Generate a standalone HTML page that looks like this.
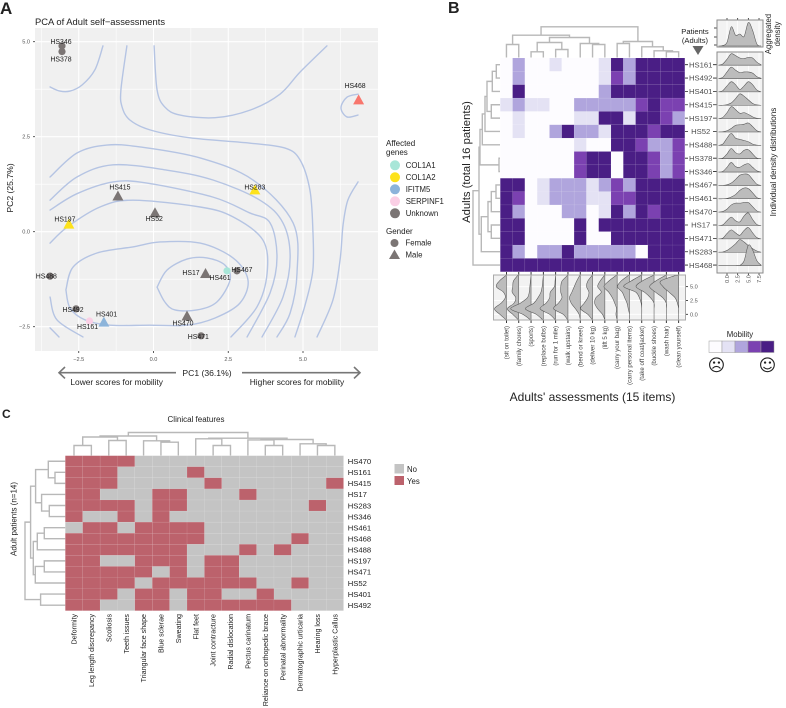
<!DOCTYPE html>
<html lang="en">
<head>
<meta charset="utf-8">
<title>Adult self-assessments figure</title>
<style>
html,body{margin:0;padding:0;background:#fff;width:786px;height:708px;overflow:hidden}
svg{display:block;font-family:"Liberation Sans",sans-serif}
text{fill:#222}
</style>
</head>
<body>
<svg id="fig" width="786" height="708" viewBox="0 0 786 708">
<defs><clipPath id="colclip"><rect x="493" y="275" width="193" height="45"/></clipPath></defs>
<text x="0" y="14" font-size="17" font-weight="bold" fill="#000">A</text>
<text x="448" y="13" font-size="16" font-weight="bold" fill="#000">B</text>
<text x="2" y="418" font-size="12" font-weight="bold" fill="#000">C</text>

<g id="a">
<text x="35" y="25" font-size="9.4">PCA of Adult self−assessments</text>
<rect x="35" y="28" width="343" height="323" fill="#f0f0f0"/>
<g id="a-grid"></g><g id="a-contours"></g><g id="a-points"></g><g id="a-labels"></g>
<text x="13" y="188" font-size="8.6" text-anchor="middle" transform="rotate(-90 13 188)">PC2 (25.7%)</text>
<text x="207" y="376" font-size="8.6" text-anchor="middle">PC1 (36.1%)</text>
<path d="M176 372.700H59M65 367l-6 5.700l6 5.700" fill="none" stroke="#777" stroke-width="1.600"/>
<path d="M242 372.700H360M354 367l6 5.700l-6 5.700" fill="none" stroke="#777" stroke-width="1.600"/>
<text x="116.700" y="385" font-size="8.400" text-anchor="middle">Lower scores for mobility</text>
<text x="297" y="385" font-size="8.400" text-anchor="middle">Higher scores for mobility</text>
<text x="386" y="146" font-size="8">Affected</text>
<text x="386" y="155" font-size="8">genes</text>
<g id="a-legend"></g>
<text x="386" y="234" font-size="8">Gender</text>
<circle cx="394.500" cy="243" r="4" fill="#7b7574"/>
<path d="M394.500 249.500l5.500 9.500h-11z" fill="#7b7574"/>
<text x="405.500" y="245.700" font-size="7.800">Female</text>
<text x="405.500" y="257.700" font-size="7.800">Male</text>
</g>

<g id="b">
<g id="b-top-dendro"></g><g id="b-left-dendro"></g><g id="b-heat"></g><g id="b-rows"></g>
<rect x="717" y="52" width="46" height="221" fill="#f2f2f2"/>
<rect x="717" y="20" width="46" height="27" fill="#f2f2f2"/>
<rect x="493.500" y="275" width="192" height="45" fill="#f2f2f2"/>
<g id="b-ridgegrid"></g><g id="b-ridges"></g><g id="b-agg"></g><g id="b-cols" clip-path="url(#colclip)"></g><g id="b-axes"></g>
<rect x="717" y="52" width="46" height="221" fill="none" stroke="#8a8a8a" stroke-width="1"/>
<rect x="717" y="20" width="46" height="27" fill="none" stroke="#8a8a8a" stroke-width="1"/>
<rect x="493.500" y="275" width="192" height="45" fill="none" stroke="#aaa" stroke-width="1"/>
<text x="695" y="34" font-size="7.600" text-anchor="middle">Patients</text>
<text x="695" y="43" font-size="7.600" text-anchor="middle">(Adults)</text>
<path d="M692.500 46h11l-5.500 9z" fill="#666"/>
<text x="771" y="34" font-size="7.800" text-anchor="middle" transform="rotate(-90 771 34)">Aggregated</text>
<text x="780" y="34" font-size="7.800" text-anchor="middle" transform="rotate(-90 780 34)">density</text>
<text x="776" y="162" font-size="8.200" text-anchor="middle" transform="rotate(-90 776 162)">Individual density distributions</text>
<text x="470" y="162" font-size="11.300" text-anchor="middle" transform="rotate(-90 470 162)">Adults (total 16 patients)</text>
<text x="592.500" y="401" font-size="12" text-anchor="middle">Adults' assessments (15 items)</text>
<text x="740" y="337" font-size="7.800" text-anchor="middle">Mobility</text>
<g id="b-legend"></g>
<text x="716.500" y="371" font-size="17" text-anchor="middle" style="font-family:'DejaVu Sans',sans-serif">☹</text>
<text x="767.500" y="371" font-size="17" text-anchor="middle" style="font-family:'DejaVu Sans',sans-serif">☺</text>
</g>

<g id="c">
<text x="196" y="422" font-size="8" text-anchor="middle">Clinical features</text>
<text x="16.500" y="519" font-size="8" text-anchor="middle" transform="rotate(-90 16.500 519)">Adult patients (n=14)</text>
<g id="c-top-dendro"></g><g id="c-left-dendro"></g><g id="c-heat"></g><g id="c-rows"></g><g id="c-cols"></g>
<rect x="394.500" y="464" width="9.500" height="9.500" fill="#c4c4c4"/>
<rect x="394.500" y="476" width="9.500" height="9" fill="#bc626c"/>
<text x="407" y="472" font-size="7.800">No</text>
<text x="407" y="484" font-size="7.800">Yes</text>
</g>
</svg>

<script>
/* ---------- Panel A data ---------- */
const pcaPatients = ['HS346','HS378','HS468','HS415','HS283','HS197','HS52','HS488','HS17','HS461','HS467','HS470','HS471','HS492','HS401','HS161'];
const pcaPC1 = [-3.06,-3.06,6.86,-1.19,3.39,-2.83,0.05,-3.46,1.74,2.46,2.79,1.12,1.59,-2.59,-1.66,-2.14];
const pcaPC2 = [4.89,4.74,3.47,0.94,1.10,0.20,0.50,-1.17,-1.10,-1.03,-1.03,-2.22,-2.74,-2.03,-2.38,-2.35];
const pcaGender = ['F','F','M','M','M','M','M','F','M','F','F','M','F','F','M','F'];
const pcaGene = ['Unknown','Unknown','Other','Unknown','COL1A2','COL1A2','Unknown','Unknown','Unknown','COL1A1','Unknown','Unknown','Unknown','Unknown','IFITM5','SERPINF1'];
const geneNames = ['COL1A1','COL1A2','IFITM5','SERPINF1','Unknown'];
const pcaTicksX = [-2.5,0,2.5,5];
const pcaTicksY = [-2.5,0,2.5,5];
const contourTopLeft = [[-3.46,3.81],[-3.13,3.70],[-2.79,3.70],[-2.39,3.86],[-1.96,4.26],[-1.69,4.89]];
const contourTopMiddle = [[0.02,4.89],[0.12,3.73],[0.38,3.28],[0.89,3.07],[2.06,3.00],[3.23,3.20],[4.23,3.62],[4.90,4.20],[5.80,4.89]];
const contourNearHS468 = [[6.84,3.07],[6.47,3.02],[6.27,3.26],[6.47,3.54],[6.84,3.62]];
const contourBroad = [[-0.89,4.89],[-1.09,3.73],[-1.05,3.28],[-0.79,2.94],[-0.12,2.68],[1.22,2.47],[3.23,2.33],[4.40,2.20],[4.90,1.89],[5.23,1.10],[5.33,0.04],[5.33,-1.01],[5.07,-1.93],[4.73,-2.77]];
const contourFarRight = [[6.84,1.31],[6.50,0.83],[6.34,0.18],[6.24,-0.74],[6.00,-1.80],[5.47,-2.77]];
const contourRing1 = [[-3.46,1.44],[-2.56,2.07],[-1.56,2.28],[-0.45,2.23],[1.56,1.94],[3.33,1.36],[4.67,0.23],[4.80,-1.09],[4.57,-2.14],[4.13,-2.77]];
const contourRing2 = [[-3.46,0.83],[-2.56,1.44],[-1.35,1.76],[0.45,1.62],[1.99,1.36],[3.56,0.83],[4.33,0.23],[4.57,-0.67],[4.33,-1.72],[3.63,-2.77]];
const contourRing3 = [[-3.46,0.57],[-2.56,1.00],[-1.35,1.31],[-0.22,1.28],[1.99,0.91],[3.20,0.50],[3.90,0.23],[4.13,-0.67],[3.90,-1.61],[3.13,-2.77]];
const contourRing3Low = [[-3.46,-2.53],[-3.16,-2.77]];
const contourRing4 = [[-3.46,-0.30],[-2.89,0.12],[-1.79,0.65],[-0.69,0.83],[1.56,0.65],[2.66,0.39],[3.66,-0.22],[3.80,-1.09],[3.46,-1.98],[2.59,-2.77]];
const contourRing4Low = [[-3.46,-1.72],[-3.23,-2.32],[-2.36,-2.77]];
const contourRing5 = [[-2.93,-1.53],[-2.69,-0.93],[-1.89,-0.56],[-0.69,-0.40],[0.22,-0.27],[1.56,-0.30],[2.66,-0.69],[3.16,-1.27],[2.89,-1.88],[2.06,-2.27],[1.12,-2.46],[-0.12,-2.46],[-1.45,-2.46],[-2.29,-2.32],[-2.79,-2.01],[-2.93,-1.53]];
const contourInner = [[0.12,-1.46],[0.45,-1.01],[1.12,-0.72],[1.79,-0.69],[2.39,-0.88],[2.56,-1.27],[2.12,-1.85],[1.45,-2.06],[0.72,-2.06],[0.38,-1.85],[0.12,-1.46]];
const contours = [contourTopLeft,contourTopMiddle,contourNearHS468,contourBroad,contourFarRight,contourRing1,contourRing2,contourRing3,contourRing3Low,contourRing4,contourRing4Low,contourRing5,contourInner];

/* ---------- Panel B data ---------- */
const mobilityPatients = ['HS161','HS492','HS401','HS415','HS197','HS52','HS488','HS378','HS346','HS467','HS461','HS470','HS17','HS471','HS283','HS468'];
const mobilityItems = ['(sit on toilet)','(family chores)','(sports)','(replace bulbs)','(run for 1 mile)','(walk upstairs)','(bend or kneel)','(deliver 10 kg)','(lift 5 kg)','(carry your bag)','(carry personal items)','(take off coat/jacket)','(buckle shoes)','(wash hair)','(clean yourself)'];
const mobilityScores = [
[0,2,0,0,1,0,0,0,1,4,2,4,4,4,4],
[0,2,0,0,0,0,0,0,1,3,2,4,4,4,4],
[0,4,0,0,0,0,0,0,2,4,4,4,4,4,4],
[1,2,1,1,0,0,2,2,2,2,2,3,4,3,3],
[0,1,0,0,0,0,1,1,4,4,1,4,4,3,2],
[0,1,0,0,2,4,2,2,1,4,4,4,3,4,4],
[0,0,0,0,0,0,1,0,0,4,4,3,2,2,3],
[0,0,0,0,0,0,3,4,4,0,4,4,3,2,3],
[0,0,0,0,0,0,3,4,4,0,4,4,3,2,3],
[4,4,0,1,2,2,2,1,2,3,2,4,4,4,4],
[4,3,0,1,2,2,2,1,1,3,3,4,4,4,4],
[4,2,0,0,0,2,2,0,1,4,2,4,3,4,4],
[4,4,0,0,0,0,4,0,4,4,4,4,4,4,4],
[4,4,0,0,0,0,4,0,0,4,4,4,4,4,4],
[4,2,0,2,2,4,2,2,2,2,2,0,4,4,4],
[4,4,4,4,4,4,4,4,4,4,4,4,4,4,4]];
const mobilityLevels = [0,1,2,3,4];
const densityGrid = [-2,-1,0,1,2,3,4,5,6,7,8];
const rowDensities = [
[0,.1,.5,.95,.8,.6,.55,.65,.6,.25,.03],
[0,.1,.55,.95,.7,.5,.55,.55,.45,.15,.02],
[0,.1,.5,.85,.6,.2,.5,.85,.6,.15,0],
[0,0,.05,.2,.55,.95,.75,.45,.15,.03,0],
[0,.1,.5,1,.75,.45,.5,.35,.15,.03,0],
[0,.02,.1,.3,.55,.6,.65,.75,.45,.1,0],
[0,.1,.6,1,.6,.5,.4,.3,.1,.02,0],
[0,.05,.4,.85,.5,.4,.7,.75,.4,.05,0],
[0,.05,.4,.8,.45,.4,.6,.7,.4,.1,0],
[0,0,.05,.2,.5,.85,.95,.9,.5,.1,0],
[0,0,.03,.15,.35,.7,.9,.85,.5,.1,0],
[0,.05,.25,.6,.75,.75,.8,.8,.45,.1,0],
[0,.05,.4,.7,.4,.3,.8,1.05,.5,.08,0],
[0,.05,.45,.75,.5,.3,.7,.95,.5,.1,0],
[0,.02,.15,.4,.7,1.05,.85,.55,.3,.1,0],
[0,0,0,0,0,.02,.4,1.7,1.3,.4,.03]];
const aggregateDensity = [0,.02,.15,.8,.45,.5,.4,.98,.65,.08,0];
const densityTicks = [0,2.5,5,7.5];
const columnGrid = [-1,0,1,2,3,4,5,6,7];
const columnDensities = [
[.02,.55,1,.45,.1,.25,.85,.6,.05],
[.03,.5,.95,.4,.25,.55,.5,.45,.1],
[.05,.7,1.7,.9,.3,.15,.1,.05,0],
[.05,.6,1.5,.8,.45,.2,.1,.05,0],
[.03,.5,1.3,.8,.5,.45,.1,.05,0],
[.03,.4,1.2,.8,.5,.6,.6,.5,.05],
[0,.1,.4,.75,.9,.7,.5,.3,.05],
[.02,.4,1,.7,.4,.3,.5,.4,.05],
[0,.2,.6,.85,.75,.3,.6,.4,.05],
[0,.1,.05,.2,.4,.7,1.1,.7,.1],
[0,0,.1,.2,.4,.6,1,.7,.1],
[0,0,0,.05,.2,.5,1.5,.9,.1],
[0,0,0,0,.3,.8,1.5,1,.1],
[0,0,0,0,.3,.9,1.4,.9,.1],
[0,0,0,.1,.3,.8,1.3,1.5,.3]];
const columnTicks = [0,2.5,5];
/* hclust-style merges: [left, right, height]; negative = earlier merge (-1 is merge 0) */
const itemMerges = [[0,1,13],[2,3,5.7],[4,5,8],[-2,-3,15],[7,8,13],[6,-5,14],[-4,-6,20],[-1,-7,22.3],[9,10,14],[13,14,5.7],[12,-10,6.7],[11,-11,10.7],[-9,-12,16],[-8,-13,30.7]];
const patientMerges = [[0,1,3.7],[-1,2,7.7],[3,4,8.7],[-2,-3,13],[-4,5,15],[-5,6,17.7],[7,8,1],[-6,-7,20],[9,10,4],[-9,11,8.7],[12,13,8.7],[-10,-11,12],[-12,14,18.7],[-8,-13,21],[-14,15,27]];

/* ---------- Panel C data ---------- */
const clinicalPatients = ['HS470','HS161','HS415','HS17','HS283','HS346','HS461','HS468','HS488','HS197','HS471','HS52','HS401','HS492'];
const clinicalFeatures = ['Deformity','Leg length discrepancy','Scoliosis','Teeth issues','Triangular face shape','Blue sclerae','Sweating','Flat feet','Joint contracture','Radial dislocation','Pectus carinatum','Reliance on orthopedic brace','Perinatal abnormality','Dermatographic urticaria','Hearing loss','Hyperplastic Callus'];
const clinicalMatrix = [
[1,1,1,1,0,0,0,0,0,0,0,0,0,0,0,0],
[1,1,1,0,0,0,0,1,0,0,0,0,0,0,0,0],
[1,1,1,0,0,0,0,0,1,0,0,0,0,0,0,1],
[1,1,0,0,0,1,1,0,0,0,1,0,0,0,0,0],
[1,1,1,1,0,1,1,0,0,0,0,0,0,0,1,0],
[1,0,0,1,0,1,0,0,0,0,0,0,0,0,0,0],
[0,1,1,0,1,1,1,1,0,0,0,0,0,0,0,0],
[1,1,1,1,1,1,1,1,0,0,0,0,0,1,0,0],
[1,1,1,1,1,1,1,0,0,0,1,0,1,0,0,0],
[1,1,0,0,1,1,1,0,1,1,0,0,0,0,0,0],
[1,1,1,1,1,0,1,0,1,1,0,0,0,0,0,0],
[1,1,1,1,0,1,1,1,1,1,1,0,0,1,0,0],
[1,1,1,0,1,1,0,1,1,0,0,1,0,0,0,0],
[1,1,0,0,1,1,0,1,1,1,1,1,1,0,0,0]];
const featureMerges = [[0,1,10],[2,3,15],[-1,-2,18.5],[5,6,13.3],[4,-4,14.7],[-3,-5,19.5],[8,9,10],[7,-7,16.7],[11,12,10],[10,-9,15.6],[14,15,10],[13,-11,11.7],[-10,-12,16],[-8,-13,17.3],[-6,-14,23]];
const clinicalMerges = [[1,2,10.3],[0,-1,17],[4,5,16],[3,-3,23.7],[-2,-4,29.7],[6,7,21],[-6,8,28],[9,10,21],[-8,11,30],[-7,-9,32],[-5,-10,34.7],[12,13,24.7],[-11,-12,40.3]];

/* ---------- Styling / layout (not data) ---------- */
const NS = 'http://www.w3.org/2000/svg';
const geneColor = {COL1A1:'#a8e6d8',COL1A2:'#fde21b',IFITM5:'#8cb4da',SERPINF1:'#fbcfe5',Unknown:'#7b7574',Other:'#f8766d'};
const mobilityColor = ['#fdfcff','#e4e2f4','#b0a5dd','#7b41b1','#4a1e85'];
const labelNudge = {HS346:[-1,-4.5],HS378:[-1,7.5],HS468:[-3.5,-14],HS415:[2,-9],HS283:[0,-3],HS197:[-4,-5],HS52:[-.7,6],HS488:[-3.7,0],HS17:[-14.5,-1],HS461:[-7,7],HS467:[5,-1],HS470:[-4,7],HS471:[-2.7,1],HS492:[-3,1],HS401:[2.7,-8],HS161:[-2,5.7]};
function make(tag, attrs, parent, txt){
  const e = document.createElementNS(NS, tag);
  for (const k in attrs) e.setAttribute(k, attrs[k]);
  if (txt !== undefined) e.textContent = txt;
  parent.appendChild(e);
  return e;
}
const $ = id => document.getElementById(id);
function f(n){return n.toFixed(2);}
function smooth(pts){
  let d = 'M'+f(pts[0][0])+' '+f(pts[0][1]);
  for (let i=0;i<pts.length-1;i++){
    const p0=pts[Math.max(i-1,0)],p1=pts[i],p2=pts[i+1],p3=pts[Math.min(i+2,pts.length-1)];
    d+='C'+f(p1[0]+(p2[0]-p0[0])/6)+' '+f(p1[1]+(p2[1]-p0[1])/6)+' '+f(p2[0]-(p3[0]-p1[0])/6)+' '+f(p2[1]-(p3[1]-p1[1])/6)+' '+f(p2[0])+' '+f(p2[1]);
  }
  return d;
}

/* ---------- Panel A drawing ---------- */
const ax = v => 153.5 + 29.9*v;
const ay = v => 231.7 - 38*v;
const aMinorX = [-3.75,-1.25,1.25,3.75,6.25];
const aMinorY = [-1.25,1.25,3.75];
aMinorX.forEach(v=>{
  const e = make('line',{x1:ax(v),x2:ax(v),y1:28,y2:351,stroke:'#fff','stroke-width':.6},$('a-grid'));
  
  
});
aMinorY.forEach(v=>{
  const e = make('line',{x1:35,x2:378,y1:ay(v),y2:ay(v),stroke:'#fff','stroke-width':.6},$('a-grid'));
  
  
});
pcaTicksX.forEach(v=>{
  const e = make('line',{x1:ax(v),x2:ax(v),y1:28,y2:351,stroke:'#fff','stroke-width':1.1},$('a-grid'));
  
  
  const t = make('line',{x1:ax(v),x2:ax(v),y1:351,y2:353,stroke:'#333','stroke-width':.8},$('a-grid'));
  
  
  const l = make('text',{x:ax(v),y:361,'font-size':5.6,'text-anchor':'middle',style:'fill:#555'},$('a-grid'),v.toFixed(1).replace('-','−'));
  
  
});
pcaTicksY.forEach(v=>{
  const e = make('line',{x1:35,x2:378,y1:ay(v),y2:ay(v),stroke:'#fff','stroke-width':1.1},$('a-grid'));
  
  
  const t = make('line',{x1:33,x2:35,y1:ay(v),y2:ay(v),stroke:'#333','stroke-width':.8},$('a-grid'));
  
  
  const l = make('text',{x:30,y:ay(v)+2,'font-size':5.6,'text-anchor':'end',style:'fill:#555'},$('a-grid'),v.toFixed(1).replace('-','−'));
  
  
});
contours.forEach(c=>{
  const e = make('path',{d:smooth(c.map(p=>[ax(p[0]),ay(p[1])])),fill:'none',stroke:'#b5c4e3','stroke-width':1.4,'stroke-linecap':'round'},$('a-contours'));
  
  
});
pcaPatients.forEach((id,i)=>{
  const x=ax(pcaPC1[i]),y=ay(pcaPC2[i]),col=geneColor[pcaGene[i]];
  let m;
  if (pcaGender[i]==='M'){
    m = make('path',{d:`M${f(x)} ${f(y-5.5)}l5.5 10h-11z`,fill:col},$('a-points'));
  } else {
    m = make('circle',{cx:x,cy:y,r:3.6,fill:col},$('a-points'));
  }
  
  
  const n=labelNudge[id];
  const t = make('text',{x:x+n[0],y:y+n[1]+2.4,'font-size':6.9,'text-anchor':'middle',style:'fill:#1a1a1a'},$('a-labels'),id);
  
  
});
geneNames.forEach((g,i)=>{
  const c = make('circle',{cx:395,cy:165.3+12*i,r:5,fill:geneColor[g]},$('a-legend'));
  
  
  const t = make('text',{x:405.7,y:168+12*i,'font-size':7.8},$('a-legend'),g);
  
  
});

/* ---------- Dendrograms ---------- */
function dendro(merges, leafPos, base, vertical, parent, name){
  const nodes=[];
  const res = n => n>=0 ? {p:leafPos(n),h:0} : nodes[-n-1];
  merges.forEach(m=>{
    const a=res(m[0]),b=res(m[1]),h=m[2];
    let d;
    if (vertical) d=`M${f(a.p)} ${f(base-a.h)}V${f(base-h)}H${f(b.p)}V${f(base-b.h)}`;
    else d=`M${f(base-a.h)} ${f(a.p)}H${f(base-h)}V${f(b.p)}H${f(base-b.h)}`;
    const e = make('path',{d:d,fill:'none',stroke:'#b8b8b8','stroke-width':1.4},parent);
    
    
    nodes.push({p:(a.p+b.p)/2,h:h});
  });
}

/* ---------- Panel B drawing ---------- */
const bLeft=500.3,bTop=58,bCW=12.3,bRH=13.36;
const bColX = j => bLeft + bCW*(j+.5);
const bRowY = i => bTop + bRH*(i+.5);
dendro(itemMerges,bColX,57.5,true,$('b-top-dendro'),'items-dendrogram-branch');
dendro(patientMerges,bRowY,bLeft-.3,false,$('b-left-dendro'),'patients-dendrogram-branch');
mobilityScores.forEach((row,i)=>row.forEach((v,j)=>{
  const r = make('rect',{x:bLeft+bCW*j,y:bTop+bRH*i,width:bCW,height:bRH,fill:mobilityColor[v],stroke:'#fff','stroke-opacity':.12,'stroke-width':.4},$('b-heat'));
  
  
}));
mobilityPatients.forEach((p,i)=>{
  const y=bRowY(i);
  const t = make('text',{x:700.7,y:y+2.7,'font-size':7.7,'text-anchor':'middle',style:'fill:#4d4d4d'},$('b-rows'),p);
  
  
  const a = make('path',{d:`M685 ${f(y)}h3M713 ${f(y)}h4`,stroke:'#222','stroke-width':.8},$('b-rows'));
  
  
});
const rx = v => 727 + 4.27*v;
const ridgeBase = i => bRowY(i)+.5;
densityTicks.forEach(v=>{
  const g = make('path',{d:`M${f(rx(v))} 52V273M${f(rx(v))} 20V47`,stroke:'#fff','stroke-width':.8},$('b-ridgegrid'));
  
  
  const t = make('path',{d:`M${f(rx(v))} 273v2M${f(rx(v))} 18v2`,stroke:'#222','stroke-width':.8},$('b-axes'));
  
  
  const l = make('text',{x:rx(v)+2,y:283,'font-size':5.5,'text-anchor':'middle',transform:`rotate(-90 ${f(rx(v))} 281)`,style:'fill:#555'},$('b-axes'),v.toFixed(1));
  
  
});
rowDensities.forEach((vals,i)=>{
  const b=ridgeBase(i);
  const pts=densityGrid.map((v,k)=>[rx(v),b-12*vals[k]]);
  const d=smooth(pts);
  const e = make('path',{d:d+`L${f(rx(8))} ${f(b)}L${f(rx(-2))} ${f(b)}Z`,fill:'#bcbcbc',stroke:'#555','stroke-width':.55},$('b-ridges'));
  
  
});
const aggPts = densityGrid.map((v,k)=>[rx(v),46-24*aggregateDensity[k]]);
const aggE = make('path',{d:smooth(aggPts)+`L${f(rx(8))} 46L${f(rx(-2))} 46Z`,fill:'#bcbcbc',stroke:'#555','stroke-width':.55},$('b-agg'));


const aggYTicks=[28,37,45];
aggYTicks.forEach(y=>{
  const t = make('line',{x1:714,x2:717,y1:y,y2:y,stroke:'#222','stroke-width':.8},$('b-axes'));
  
  
});
const cy = v => 314.3 - 5.53*v;
columnTicks.forEach(v=>{
  const g = make('line',{x1:493.5,x2:685.5,y1:cy(v),y2:cy(v),stroke:'#fff','stroke-width':.9},$('b-ridgegrid'));
  
  
  const t = make('line',{x1:685.5,x2:688,y1:cy(v),y2:cy(v),stroke:'#222','stroke-width':.8},$('b-axes'));
  
  
  const l = make('text',{x:690,y:cy(v)+2,'font-size':5.6,style:'fill:#555'},$('b-axes'),v.toFixed(1));
  
  
});
columnDensities.forEach((vals,j)=>{
  const b=bColX(j);
  const pts=columnGrid.map((v,k)=>[b-12*vals[k],cy(v)]);
  const d=smooth(pts);
  const e = make('path',{d:d+`L${f(b)} ${f(cy(7))}L${f(b)} 272L${f(b)} 322L${f(b)} ${f(cy(-1))}Z`,fill:'#bcbcbc',stroke:'#555','stroke-width':.55},$('b-cols'));
  
  
  const t = make('path',{d:`M${f(b)} 272v3M${f(b)} 320v3`,stroke:'#222','stroke-width':.9},$('b-axes'));
  
  
  const l = make('text',{x:b,y:326,'font-size':6.1,'text-anchor':'end',transform:`rotate(-90 ${f(b+2)} 326)`,style:'fill:#444'},$('b-axes'),mobilityItems[j]);
  l.setAttribute('x',b+2);
  
  
});
mobilityLevels.forEach((lv,i)=>{
  const r = make('rect',{x:709+13*i,y:341,width:13,height:11.5,fill:mobilityColor[lv],stroke:'#999','stroke-width':.5},$('b-legend'));
  
  
});

/* ---------- Panel C drawing ---------- */
const cLeft=65.3,cTop=455.7,cCW=17.39,cRH=11.07;
const cColX = j => cLeft + cCW*(j+.5);
const cRowY = i => cTop + cRH*(i+.5);
dendro(featureMerges,cColX,cTop-.2,true,$('c-top-dendro'),'features-dendrogram-branch');
dendro(clinicalMerges,cRowY,cLeft,false,$('c-left-dendro'),'clinical-patients-dendrogram-branch');
clinicalMatrix.forEach((row,i)=>row.forEach((v,j)=>{
  const r = make('rect',{x:cLeft+cCW*j,y:cTop+cRH*i,width:cCW,height:cRH,fill:v?'#bc626c':'#c4c4c4',stroke:'#fff','stroke-opacity':.14,'stroke-width':.4},$('c-heat'));
  
  
}));
clinicalPatients.forEach((p,i)=>{
  const t = make('text',{x:347.7,y:cRowY(i)+2.8,'font-size':7.7},$('c-rows'),p);
  
  
});
clinicalFeatures.forEach((name,j)=>{
  const x=cColX(j)+2.6;
  const t = make('text',{x:x,y:614,'font-size':7.1,'text-anchor':'end',transform:`rotate(-90 ${f(x)} 614)`},$('c-cols'),name);
  
  
});
</script>
</body>
</html>
